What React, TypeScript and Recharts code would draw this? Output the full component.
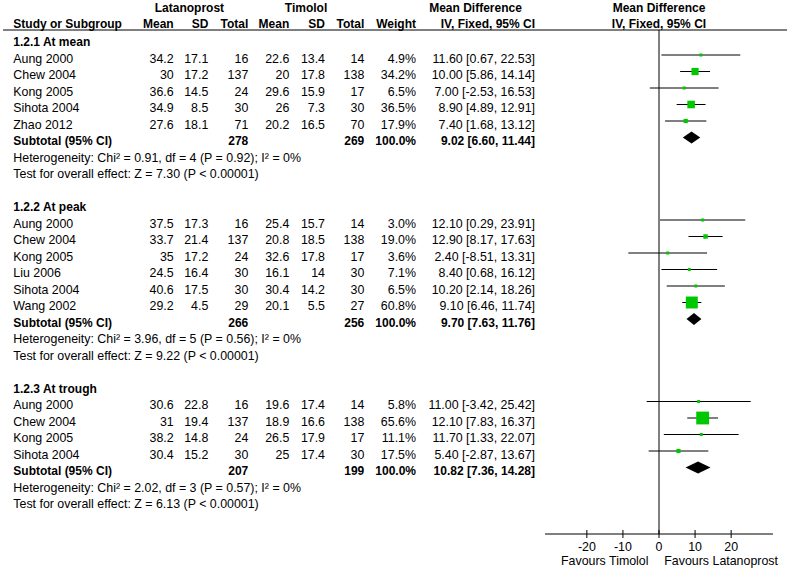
import React from "react";
import { ScatterChart, Scatter, XAxis, YAxis, ReferenceLine, Customized } from "recharts";

type Study = { study: string; latMean: number; latSD: number; latN: number; timMean: number; timSD: number; timN: number; weight: number; md: number; lo: number; hi: number };
type Total = { latN: number; timN: number; md: number; lo: number; hi: number; chi: string; df: number; p: string; i2: string; z: string };

const groupTitles = ["1.2.1 At mean", "1.2.2 At peak", "1.2.3 At trough"];

const atMean: Study[] = [
  { study: "Aung 2000", latMean: 34.2, latSD: 17.1, latN: 16, timMean: 22.6, timSD: 13.4, timN: 14, weight: 4.9, md: 11.6, lo: 0.67, hi: 22.53 },
  { study: "Chew 2004", latMean: 30, latSD: 17.2, latN: 137, timMean: 20, timSD: 17.8, timN: 138, weight: 34.2, md: 10.0, lo: 5.86, hi: 14.14 },
  { study: "Kong 2005", latMean: 36.6, latSD: 14.5, latN: 24, timMean: 29.6, timSD: 15.9, timN: 17, weight: 6.5, md: 7.0, lo: -2.53, hi: 16.53 },
  { study: "Sihota 2004", latMean: 34.9, latSD: 8.5, latN: 30, timMean: 26, timSD: 7.3, timN: 30, weight: 36.5, md: 8.9, lo: 4.89, hi: 12.91 },
  { study: "Zhao 2012", latMean: 27.6, latSD: 18.1, latN: 71, timMean: 20.2, timSD: 16.5, timN: 70, weight: 17.9, md: 7.4, lo: 1.68, hi: 13.12 },
];
const atMeanTotal: Total = { latN: 278, timN: 269, md: 9.02, lo: 6.6, hi: 11.44, chi: "0.91", df: 4, p: "0.92", i2: "0%", z: "7.30" };

const atPeak: Study[] = [
  { study: "Aung 2000", latMean: 37.5, latSD: 17.3, latN: 16, timMean: 25.4, timSD: 15.7, timN: 14, weight: 3.0, md: 12.1, lo: 0.29, hi: 23.91 },
  { study: "Chew 2004", latMean: 33.7, latSD: 21.4, latN: 137, timMean: 20.8, timSD: 18.5, timN: 138, weight: 19.0, md: 12.9, lo: 8.17, hi: 17.63 },
  { study: "Kong 2005", latMean: 35, latSD: 17.2, latN: 24, timMean: 32.6, timSD: 17.8, timN: 17, weight: 3.6, md: 2.4, lo: -8.51, hi: 13.31 },
  { study: "Liu 2006", latMean: 24.5, latSD: 16.4, latN: 30, timMean: 16.1, timSD: 14, timN: 30, weight: 7.1, md: 8.4, lo: 0.68, hi: 16.12 },
  { study: "Sihota 2004", latMean: 40.6, latSD: 17.5, latN: 30, timMean: 30.4, timSD: 14.2, timN: 30, weight: 6.5, md: 10.2, lo: 2.14, hi: 18.26 },
  { study: "Wang 2002", latMean: 29.2, latSD: 4.5, latN: 29, timMean: 20.1, timSD: 5.5, timN: 27, weight: 60.8, md: 9.1, lo: 6.46, hi: 11.74 },
];
const atPeakTotal: Total = { latN: 266, timN: 256, md: 9.7, lo: 7.63, hi: 11.76, chi: "3.96", df: 5, p: "0.56", i2: "0%", z: "9.22" };

const atTrough: Study[] = [
  { study: "Aung 2000", latMean: 30.6, latSD: 22.8, latN: 16, timMean: 19.6, timSD: 17.4, timN: 14, weight: 5.8, md: 11.0, lo: -3.42, hi: 25.42 },
  { study: "Chew 2004", latMean: 31, latSD: 19.4, latN: 137, timMean: 18.9, timSD: 16.6, timN: 138, weight: 65.6, md: 12.1, lo: 7.83, hi: 16.37 },
  { study: "Kong 2005", latMean: 38.2, latSD: 14.8, latN: 24, timMean: 26.5, timSD: 17.9, timN: 17, weight: 11.1, md: 11.7, lo: 1.33, hi: 22.07 },
  { study: "Sihota 2004", latMean: 30.4, latSD: 15.2, latN: 30, timMean: 25, timSD: 17.4, timN: 30, weight: 17.5, md: 5.4, lo: -2.87, hi: 13.67 },
];
const atTroughTotal: Total = { latN: 207, timN: 199, md: 10.82, lo: 7.36, hi: 14.28, chi: "2.02", df: 3, p: "0.57", i2: "0%", z: "6.13" };

const xTicks = [-20, -10, 0, 10, 20];
const favoursLeft = "Favours Timolol";
const favoursRight = "Favours Latanoprost";

// ---------- layout ----------
const W = 787;
const H = 571;
const ROW0 = 5.5;
const ROW_H = 16.5;
const PLOT_TOP = 30;
const AXIS_Y = 534;
const PLOT_L = 545;
const PLOT_R = 773;
const FONT = "'Liberation Sans', Arial, sans-serif";
const FS = 12.4;
const FS_BOLD = 12;
const GREEN = "#00c800";

const groups = [
  { title: groupTitles[0], studies: atMean, total: atMeanTotal },
  { title: groupTitles[1], studies: atPeak, total: atPeakTotal },
  { title: groupTitles[2], studies: atTrough, total: atTroughTotal },
];

type Row =
  | { kind: "title"; k: number; text: string }
  | { kind: "study"; k: number; s: Study }
  | { kind: "total"; k: number; t: Total }
  | { kind: "het"; k: number; t: Total }
  | { kind: "test"; k: number; t: Total };

const rows: Row[] = [];
{
  let k = 2;
  groups.forEach((g) => {
    rows.push({ kind: "title", k: k++, text: g.title });
    g.studies.forEach((s) => rows.push({ kind: "study", k: k++, s }));
    rows.push({ kind: "total", k: k++, t: g.total });
    rows.push({ kind: "het", k: k++, t: g.total });
    rows.push({ kind: "test", k: k++, t: g.total });
    k++;
  });
}

const squares = rows
  .filter((r): r is Extract<Row, { kind: "study" }> => r.kind === "study")
  .map((r) => ({ x: r.s.md, y: r.k, w: r.s.weight, lo: r.s.lo, hi: r.s.hi }));
const diamonds = rows
  .filter((r): r is Extract<Row, { kind: "total" }> => r.kind === "total")
  .map((r) => ({ x: r.t.md, y: r.k, lo: r.t.lo, hi: r.t.hi }));

const rowY = (k: number) => ROW0 + ROW_H * k;
const COL = { name: 13.3, latMean: 173.7, latSD: 208.3, latN: 248.3, timMean: 289.3, timSD: 325, timN: 364.3, weight: 416, ci: 535 };

const ci = (md: number, lo: number, hi: number) => `${md.toFixed(2)} [${lo.toFixed(2)}, ${hi.toFixed(2)}]`;

const T = (p: { x: number; y: number; anchor?: "start" | "middle" | "end"; bold?: boolean; children: React.ReactNode }) => (
  <text x={p.x} y={p.y} textAnchor={p.anchor || "start"} fontFamily={FONT} fontSize={p.bold ? FS_BOLD : FS} fontWeight={p.bold ? "bold" : "normal"} fill="#000">
    {p.children}
  </text>
);

const TableLayer = () => {
  const b0 = rowY(0) + 6.3;
  const b1 = rowY(1) + 6.3;
  const out: React.ReactNode[] = [];
  rows.forEach((r, i) => {
    const by = rowY(r.k) + 7.7;
    if (r.kind === "title") {
      out.push(<T key={i} x={COL.name} y={by} bold>{r.text}</T>);
    } else if (r.kind === "study") {
      const s = r.s;
      out.push(
        <g key={i}>
          <T x={COL.name} y={by}>{s.study}</T>
          <T x={COL.latMean} y={by} anchor="end">{String(s.latMean)}</T>
          <T x={COL.latSD} y={by} anchor="end">{String(s.latSD)}</T>
          <T x={COL.latN} y={by} anchor="end">{String(s.latN)}</T>
          <T x={COL.timMean} y={by} anchor="end">{String(s.timMean)}</T>
          <T x={COL.timSD} y={by} anchor="end">{String(s.timSD)}</T>
          <T x={COL.timN} y={by} anchor="end">{String(s.timN)}</T>
          <T x={COL.weight} y={by} anchor="end">{s.weight.toFixed(1) + "%"}</T>
          <T x={COL.ci} y={by} anchor="end">{ci(s.md, s.lo, s.hi)}</T>
        </g>
      );
    } else if (r.kind === "total") {
      const t = r.t;
      out.push(
        <g key={i}>
          <T x={COL.name} y={by} bold>Subtotal (95% CI)</T>
          <T x={COL.latN} y={by} anchor="end" bold>{String(t.latN)}</T>
          <T x={COL.timN} y={by} anchor="end" bold>{String(t.timN)}</T>
          <T x={COL.weight} y={by} anchor="end" bold>100.0%</T>
          <T x={COL.ci} y={by} anchor="end" bold>{ci(t.md, t.lo, t.hi)}</T>
        </g>
      );
    } else if (r.kind === "het") {
      const t = r.t;
      out.push(
        <T key={i} x={COL.name} y={by}>{`Heterogeneity: Chi\u00b2 = ${t.chi}, df = ${t.df} (P = ${t.p}); I\u00b2 = ${t.i2}`}</T>
      );
    } else {
      const t = r.t;
      out.push(<T key={i} x={COL.name} y={by}>{`Test for overall effect: Z = ${t.z} (P < 0.00001)`}</T>);
    }
  });
  return (
    <g>
      <T x={189.4} y={b0} anchor="middle" bold>Latanoprost</T>
      <T x={306} y={b0} anchor="middle" bold>Timolol</T>
      <T x={475.5} y={b0} anchor="middle" bold>Mean Difference</T>
      <T x={659} y={b0} anchor="middle" bold>Mean Difference</T>
      <T x={COL.name} y={b1} bold>Study or Subgroup</T>
      <T x={COL.latMean} y={b1} anchor="end" bold>Mean</T>
      <T x={COL.latSD} y={b1} anchor="end" bold>SD</T>
      <T x={COL.latN} y={b1} anchor="end" bold>Total</T>
      <T x={COL.timMean} y={b1} anchor="end" bold>Mean</T>
      <T x={COL.timSD} y={b1} anchor="end" bold>SD</T>
      <T x={COL.timN} y={b1} anchor="end" bold>Total</T>
      <T x={COL.weight} y={b1} anchor="end" bold>Weight</T>
      <T x={COL.ci} y={b1} anchor="end" bold>IV, Fixed, 95% CI</T>
      <T x={659} y={b1} anchor="middle" bold>IV, Fixed, 95% CI</T>
      <line x1={3} y1={PLOT_TOP} x2={W} y2={PLOT_TOP} stroke="#000" strokeWidth={1} />
      {out}
      <T x={648.5} y={565} anchor="end">{favoursLeft}</T>
      <T x={664.3} y={565}>{favoursRight}</T>
    </g>
  );
};

const AxisTick = (props: any) => {
  const { x, y, payload } = props;
  return (
    <g>
      <line x1={x} y1={y - 4} x2={x} y2={y + 4} stroke="#000" strokeWidth={1} />
      <text x={x} y={y + 17} textAnchor="middle" fontFamily={FONT} fontSize={FS} fill="#000">
        {payload.value}
      </text>
    </g>
  );
};

const SquareShape = (props: any) => {
  const { cx, cy, payload } = props;
  const s = Math.max(3, 1 + 0.18 * payload.w);
  return <rect x={cx - s / 2} y={cy - s / 2} width={s} height={s} fill={GREEN} />;
};

const DiamondShape = (props: any) => {
  const { x1, y1, x2 } = props;
  const m = (x1 + x2) / 2;
  const h = 6;
  return <polygon points={`${x1},${y1} ${m},${y1 - h} ${x2},${y1} ${m},${y1 + h}`} fill="#000" stroke="none" />;
};

const yDomain = [(PLOT_TOP - ROW0) / ROW_H, (AXIS_Y - ROW0) / ROW_H];

export default function App() {
  return (
    <div style={{ position: "absolute", left: 0, top: 0, width: W, height: H, background: "#fff" }}>
      <ScatterChart
        width={W}
        height={H}
        margin={{ top: PLOT_TOP, right: W - PLOT_R, bottom: H - AXIS_Y - 30, left: PLOT_L }}
      >
        <XAxis
          type="number"
          dataKey="x"
          domain={[-31.6, 31.6]}
          allowDataOverflow
          ticks={xTicks}
          interval={0}
          height={30}
          tickSize={0}
          tickMargin={0}
          tickLine={false}
          axisLine={{ stroke: "#000", strokeWidth: 1 }}
          tick={<AxisTick />}
        />
        <YAxis type="number" dataKey="y" domain={yDomain} allowDataOverflow reversed hide />
        <Customized component={<TableLayer />} />
        <ReferenceLine x={0} stroke="#000" strokeWidth={1} />
        {squares.map((d, i) => (
          <ReferenceLine
            key={"ci" + i}
            segment={[
              { x: d.lo, y: d.y },
              { x: d.hi, y: d.y },
            ]}
            stroke="#000"
            strokeWidth={1}
          />
        ))}
        {diamonds.map((d, i) => (
          <ReferenceLine
            key={"dm" + i}
            segment={[
              { x: d.lo, y: d.y },
              { x: d.hi, y: d.y },
            ]}
            stroke="#000"
            shape={DiamondShape}
          />
        ))}
        <Scatter data={squares} isAnimationActive={false} shape={SquareShape} />
      </ScatterChart>
    </div>
  );
}
